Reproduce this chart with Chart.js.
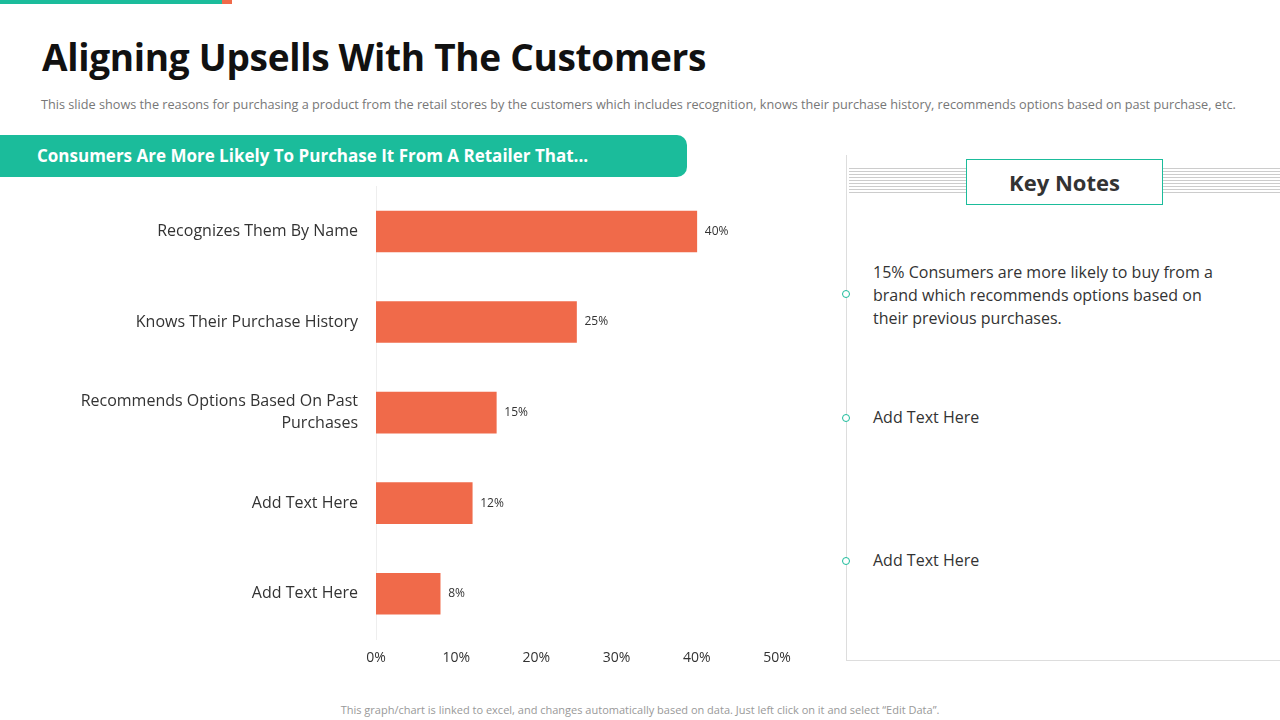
<!DOCTYPE html>
<html><head><meta charset="utf-8">
<script src="https://cdn.jsdelivr.net/npm/chart.js@4"></script>
<style>
body{margin:0;width:1280px;height:720px;position:relative;overflow:hidden;background:#fff;font-family:"Open Sans",sans-serif}
.abs{position:absolute}
</style></head><body>
<div class="abs" style="left:0;top:0;width:222px;height:4px;background:#1bbc9b"></div>
<div class="abs" style="left:222px;top:0;width:10px;height:4px;background:#f06a4a"></div>
<div class="abs" style="left:42px;top:31px;font-family:'Open Sans',sans-serif;font-weight:bold;font-size:37px;color:#111;letter-spacing:-0.3px">Aligning Upsells With The Customers</div>
<div class="abs" style="left:41px;top:95px;font-size:12.7px;color:#777">This slide shows the reasons for purchasing a product from the retail stores by the customers which includes recognition, knows their purchase history, recommends options based on past purchase, etc.</div>
<div class="abs" style="left:0;top:135px;width:687px;height:42px;background:#1bbc9b;border-radius:0 10px 10px 0"></div>
<div class="abs" style="left:37px;top:144px;font-size:17px;font-weight:bold;color:#fff">Consumers Are More Likely To Purchase It From A Retailer That...</div>
<div class="abs" style="left:846px;top:155px;width:1px;height:506px;background:#ddd"></div>
<div class="abs" style="left:846px;top:660px;width:434px;height:1px;background:#ddd"></div>
<div class="abs" style="left:849px;top:168px;width:431px;height:27px;background:repeating-linear-gradient(#ccc 0 1px,transparent 1px 3px)"></div>
<div class="abs" style="left:966px;top:159px;width:195px;height:44px;border:1px solid #1bbc9b;background:#fff;text-align:center;line-height:44px;font-size:22px;font-weight:bold;color:#333">Key Notes</div>
<div class="abs" style="left:842px;top:290px;width:6px;height:6px;border:1.5px solid #1bbc9b;border-radius:50%;background:#fff"></div>
<div class="abs" style="left:873px;top:261px;width:360px;font-size:16px;line-height:23px;color:#333">15% Consumers are more likely to buy from a brand which recommends options based on their previous purchases.</div>
<div class="abs" style="left:842px;top:414px;width:6px;height:6px;border:1.5px solid #1bbc9b;border-radius:50%;background:#fff"></div>
<div class="abs" style="left:873px;top:406px;font-size:16px;color:#333">Add Text Here</div>
<div class="abs" style="left:842px;top:557px;width:6px;height:6px;border:1.5px solid #1bbc9b;border-radius:50%;background:#fff"></div>
<div class="abs" style="left:873px;top:549px;font-size:16px;color:#333">Add Text Here</div>
<div class="abs" style="left:0;top:702px;width:1280px;text-align:center;font-size:11px;color:#999">This graph/chart is linked to excel,  and changes automatically based on data. Just left click on it and select “Edit Data”.</div>
<div class="abs" style="left:0;top:165px;width:830px;height:504px"><canvas id="c"></canvas></div>
<script>
const categories=[["Recognizes Them By Name"],["Knows Their Purchase History"],["Recommends Options Based On Past","Purchases"],["Add Text Here"],["Add Text Here"]];
const values=[40,25,15,12,8];
const xTicks=[0,10,20,30,40,50];
const labelPlugin={id:'lbl',afterDatasetsDraw(ch){const ctx=ch.ctx;ch.getDatasetMeta(0).data.forEach((b,i)=>{ctx.save();ctx.font='12px "Open Sans"';ctx.fillStyle='#333';ctx.textBaseline='middle';ctx.fillText(values[i]+'%',b.x+8,b.y);ctx.restore();});}};
new Chart(document.getElementById('c'),{type:'bar',data:{labels:categories,datasets:[{data:values,backgroundColor:'#f06a4a',barThickness:41}]},
options:{indexAxis:'y',responsive:true,maintainAspectRatio:false,animation:false,
layout:{padding:{top:4,right:53,left:0,bottom:0}},
plugins:{legend:{display:false},tooltip:{enabled:false}},
scales:{
x:{min:0,max:50,afterBuildTicks(s){s.ticks=xTicks.map(v=>({value:v}));},afterFit(s){s.height=30;},grid:{display:false},border:{display:false},ticks:{padding:3,color:'#333',font:{size:14,family:'Open Sans'},callback:v=>v+'%'}},
y:{afterFit(s){s.width=376;},grid:{display:false},border:{color:'#eee'},ticks:{padding:10,color:'#333',font:{size:16,family:'Open Sans',lineHeight:1.4}}}
}},plugins:[labelPlugin]});
</script>
</body></html>
